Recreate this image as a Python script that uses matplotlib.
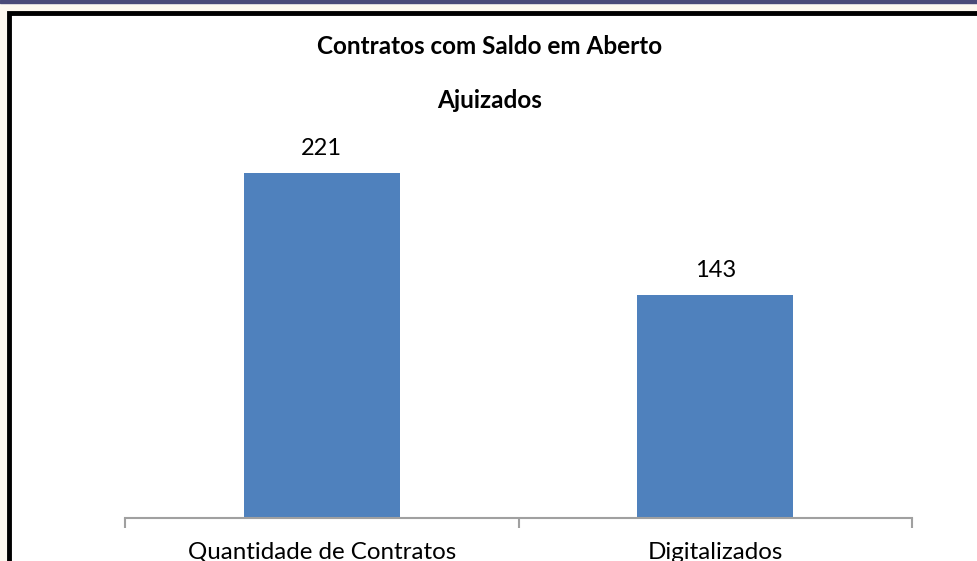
import matplotlib
matplotlib.use("Agg")
import matplotlib.pyplot as plt
from matplotlib.patches import Rectangle

categorias = ["Quantidade de Contratos", "Digitalizados"]
valores = [221, 143]
titulo = "Contratos com Saldo em Aberto"
subtitulo = "Ajuizados"

plt.rcParams['font.family'] = ['Lato', 'DejaVu Sans']

W, H = 978, 561
fig = plt.figure(figsize=(W / 100, H / 100), dpi=100)
fig.patch.set_facecolor("#fdf8f0")

# faixa superior e moldura preta
fig.patches.append(Rectangle((0, 1 - 3 / H), 1, 3 / H, transform=fig.transFigure,
                             color="#4a4a78", zorder=0))
fig.patches.append(Rectangle((9 / W, -0.05), 1.05, 1 - 12.5 / H + 0.05,
                             transform=fig.transFigure, facecolor="white",
                             edgecolor="black", linewidth=3.5, zorder=0))

# area do grafico: baseline em y=518, x de 125 a 912
ymax = 250
top_px = 518 - ymax * 1.56
ax_h = 518 - top_px
ax = fig.add_axes([125 / W, 1 - 518 / H, (912 - 125) / W, ax_h / H])
ax.set_facecolor("none")
ax.set_zorder(2)

x = range(len(categorias))
barras = ax.bar(x, valores, width=0.397, color="#4f81bd", zorder=2)
for b, v in zip(barras, valores):
    ax.text(b.get_x() + b.get_width() / 2, v + 9, str(v), ha="center", va="bottom",
            fontsize=17)

ax.set_xlim(-0.5, 1.5)
ax.set_ylim(0, ymax)
ax.set_yticks([])
for s in ["left", "right", "top"]:
    ax.spines[s].set_visible(False)
ax.spines["bottom"].set_color("#a0a0a0")
ax.spines["bottom"].set_linewidth(1.5)
ax.set_xticks([-0.5, 0.5, 1.5])
ax.set_xticklabels([])
ax.tick_params(axis="x", length=7, width=1.5, color="#a0a0a0")
# rotulos cortados na borda inferior, como no original
for i, c in enumerate(categorias):
    ax.text(i, -41 / ax_h, c, transform=ax.get_xaxis_transform(), ha="center",
            va="baseline", fontsize=17.4, clip_on=False)

fig.text(490 / W, 1 - 47 / H, titulo, ha="center", va="center", fontsize=17.5,
         fontweight="bold")
fig.text(490 / W, 1 - 101 / H, subtitulo, ha="center", va="center", fontsize=17.5,
         fontweight="bold")

fig.savefig("out.png", dpi=100)
